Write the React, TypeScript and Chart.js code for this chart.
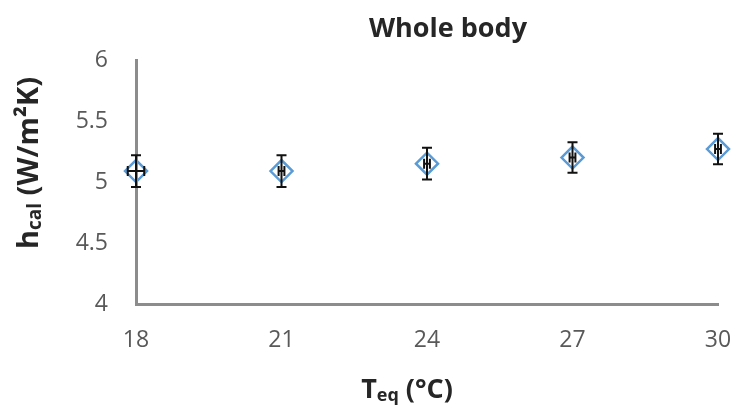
import React, { useEffect, useRef } from "react";
import { Chart, registerables } from "chart.js";

Chart.register(...registerables);

const temperatures = [18, 21, 24, 27, 30];
const hcalValues = [5.09, 5.09, 5.15, 5.2, 5.27];
const hcalErrors = [0.13, 0.13, 0.13, 0.125, 0.125];
const tempErrors = [0.17, 0.06, 0.06, 0.06, 0.06];
const yTicks = [4, 4.5, 5, 5.5, 6];
const xTicks = [18, 21, 24, 27, 30];
const chartTitle = "Whole body";

const FONT = "'Open Sans', 'DejaVu Sans', sans-serif";

type Seg = { text: string; size: number; dy: number };

function drawMixed(ctx: CanvasRenderingContext2D, segs: Seg[], cx: number, cy: number) {
  let total = 0;
  const widths = segs.map((s) => {
    ctx.font = `bold ${s.size}px ${FONT}`;
    const w = ctx.measureText(s.text).width;
    total += w;
    return w;
  });
  let x = cx - total / 2;
  segs.forEach((s, i) => {
    ctx.font = `bold ${s.size}px ${FONT}`;
    ctx.fillText(s.text, x, cy + s.dy);
    x += widths[i];
  });
}

const errorBarPlugin = {
  id: "errorBars",
  afterDatasetsDraw(chart: any) {
    const { ctx } = chart;
    const x = chart.scales.x;
    const y = chart.scales.y;
    ctx.save();
    ctx.strokeStyle = "#111";
    ctx.lineWidth = 2;
    temperatures.forEach((t, i) => {
      const v = hcalValues[i];
      const px = x.getPixelForValue(t);
      const py = y.getPixelForValue(v);
      const top = y.getPixelForValue(v + hcalErrors[i]);
      const bot = y.getPixelForValue(v - hcalErrors[i]);
      const left = x.getPixelForValue(t - tempErrors[i]);
      const right = x.getPixelForValue(t + tempErrors[i]);
      ctx.beginPath();
      ctx.moveTo(px, top);
      ctx.lineTo(px, bot);
      ctx.moveTo(px - 5, top);
      ctx.lineTo(px + 5, top);
      ctx.moveTo(px - 5, bot);
      ctx.lineTo(px + 5, bot);
      ctx.moveTo(left, py);
      ctx.lineTo(right, py);
      ctx.moveTo(left, py - 5);
      ctx.lineTo(left, py + 5);
      ctx.moveTo(right, py - 5);
      ctx.lineTo(right, py + 5);
      ctx.stroke();
    });
    ctx.restore();
  },
};

const titlesPlugin = {
  id: "titles",
  afterDraw(chart: any) {
    const { ctx } = chart;
    ctx.save();
    ctx.fillStyle = "#262626";
    ctx.textBaseline = "alphabetic";
    ctx.textAlign = "left";
    drawMixed(ctx, [{ text: chartTitle, size: 27, dy: 0 }], 448, 37);
    drawMixed(
      ctx,
      [
        { text: "T", size: 27, dy: 0 },
        { text: "eq", size: 18, dy: 3 },
        { text: " (°C)", size: 27, dy: 0 },
      ],
      407,
      398
    );
    ctx.translate(38, 163);
    ctx.rotate(-Math.PI / 2);
    drawMixed(
      ctx,
      [
        { text: "h", size: 29, dy: 0 },
        { text: "cal", size: 19, dy: 3 },
        { text: " (W/m²K)", size: 29, dy: 0 },
      ],
      0,
      0
    );
    ctx.restore();
  },
};

export default function App() {
  const canvasRef = useRef<HTMLCanvasElement>(null);

  useEffect(() => {
    document.body.style.margin = "0";
    const canvas = canvasRef.current;
    if (!canvas) return;
    const chart = new Chart(canvas, {
      type: "scatter",
      data: {
        datasets: [
          {
            data: temperatures.map((t, i) => ({ x: t, y: hcalValues[i] })),
            pointStyle: "rectRot",
            pointRadius: 11,
            pointBorderWidth: 2.5,
            pointBorderColor: "#5b9bd5",
            pointBackgroundColor: "rgba(255,255,255,0)",
            clip: false as any,
          },
        ],
      },
      options: {
        animation: false,
        responsive: false,
        layout: { padding: { top: 60, right: 17, left: 0, bottom: 0 } },
        plugins: {
          legend: { display: false },
          tooltip: { enabled: false },
          title: { display: false },
        },
        scales: {
          x: {
            type: "linear",
            min: 18,
            max: 30,
            afterBuildTicks: (scale: any) => {
              scale.ticks = xTicks.map((v) => ({ value: v }));
            },
            afterFit: (scale: any) => {
              scale.height = 105;
              scale.paddingLeft = 0;
              scale.paddingRight = 0;
            },
            grid: { display: false, drawTicks: false },
            border: { display: true, color: "#8c8c8c", width: 3 },
            ticks: {
              color: "#595959",
              padding: 23,
              maxRotation: 0,
              font: { family: FONT, size: 23 },
            },
          },
          y: {
            type: "linear",
            min: 4,
            max: 6,
            afterBuildTicks: (scale: any) => {
              scale.ticks = yTicks.map((v) => ({ value: v }));
            },
            afterFit: (scale: any) => {
              scale.width = 136;
              scale.paddingTop = 0;
              scale.paddingBottom = 0;
            },
            grid: { display: false, drawTicks: false },
            border: { display: true, color: "#8c8c8c", width: 3 },
            ticks: {
              color: "#595959",
              padding: 28,
              font: { family: FONT, size: 23 },
              callback: (v: any) => String(v),
            },
          },
        },
      },
      plugins: [errorBarPlugin, titlesPlugin],
    });
    return () => chart.destroy();
  }, []);

  return (
    <div style={{ position: "absolute", left: 0, top: 0, width: 735, height: 409 }}>
      <canvas ref={canvasRef} width={735} height={409} />
    </div>
  );
}
